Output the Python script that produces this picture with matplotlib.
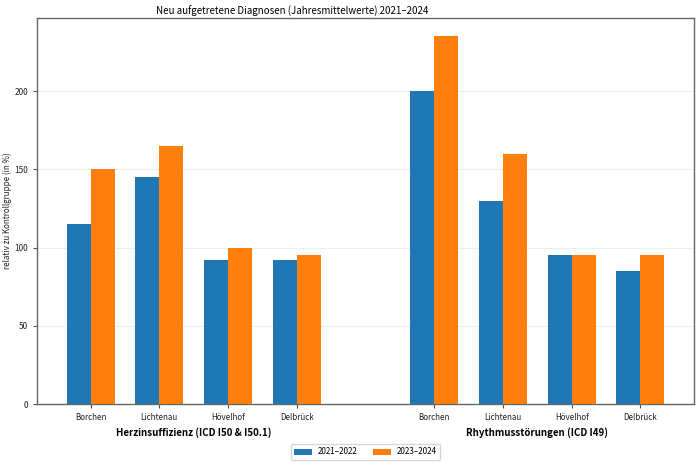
import matplotlib
matplotlib.use("Agg")
import matplotlib.pyplot as plt
import numpy as np

plt.rcParams['font.family'] = ['Noto Sans CJK SC', 'DejaVu Sans']

orte = ["Borchen", "Lichtenau", "Hövelhof", "Delbrück"]
gruppen = ["Herzinsuffizienz (ICD I50 & I50.1)", "Rhythmusstörungen (ICD I49)"]
serien = ["2021–2022", "2023–2024"]
herz_2122 = [115, 145, 92, 92]
herz_2324 = [150, 165, 100, 95]
rhythm_2122 = [200, 130, 95, 85]
rhythm_2324 = [235, 160, 95, 95]
farben = ["#1f77b4", "#ff7f0e"]

fig = plt.figure(figsize=(7, 4.67), dpi=100)
ax = fig.add_axes([37/700, 1-404/467, (694-37)/700, (404-18)/467])

x1 = np.arange(4)
x2 = np.arange(4) + 5
w = 0.35
v1 = herz_2122 + rhythm_2122
v2 = herz_2324 + rhythm_2324
xs = np.concatenate([x1, x2])
ax.bar(xs - w/2, v1, w, color=farben[0], label=serien[0], zorder=3)
ax.bar(xs + w/2, v2, w, color=farben[1], label=serien[1], zorder=3)

ax.set_xticks(xs)
ax.set_xticklabels(orte + orte, fontsize=5.8, color='#222222')
ax.set_xlim(-0.78, 8.78)
ax.set_ylim(0, max(v2) * 1.05)
ax.set_yticks([0, 50, 100, 150, 200])
ax.tick_params(axis='y', labelsize=6, length=3, color='#555555', labelcolor='#222222')
ax.tick_params(axis='x', length=3, color='#555555')
ax.grid(axis='y', color='#eeeeee', linewidth=0.8, zorder=0)
for s in ax.spines.values():
    s.set_color('#666666')
    s.set_linewidth(1.0)
ax.set_ylabel("relativ zu Kontrollgruppe (in %)", fontsize=5.8, color='#222222')
ax.yaxis.set_label_coords(-(37-12.5)/657, 0.5)

ax.text(1.5, -0.075, gruppen[0], transform=ax.get_xaxis_transform(),
        ha='center', va='center', fontsize=7, fontweight='bold')
ax.text(6.5, -0.075, gruppen[1], transform=ax.get_xaxis_transform(),
        ha='center', va='center', fontsize=7, fontweight='bold')

fig.text(292/700, 1-11/467, "Neu aufgetretene Diagnosen (Jahresmittelwerte) 2021–2024",
         ha='center', va='center', fontsize=7)

ax.legend(loc='center', bbox_to_anchor=(0.5, 1-(452-18)/386), ncol=2, fontsize=5.8,
          frameon=True, columnspacing=2.0, handlelength=2.2, handletextpad=0.75)

fig.savefig("out.png", dpi=100)
